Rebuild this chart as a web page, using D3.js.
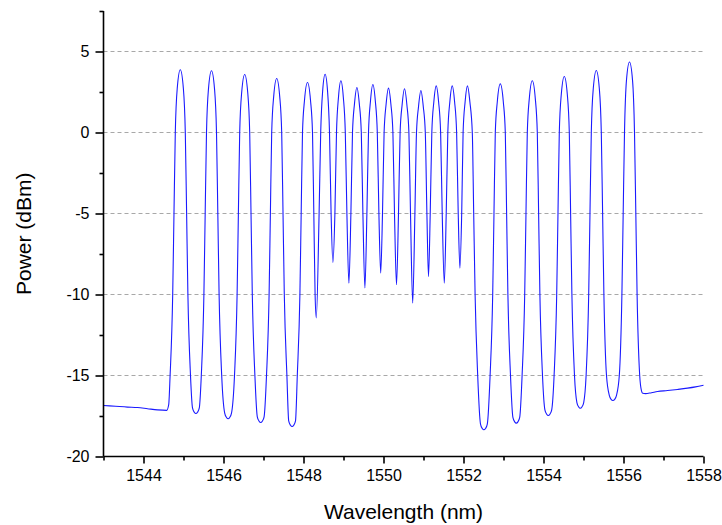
<!DOCTYPE html>
<html>
<head>
<meta charset="utf-8">
<script src="https://cdn.jsdelivr.net/npm/d3@7"></script>
<style>
  html, body { margin: 0; padding: 0; background: #fff; }
  svg { display: block; }
  text { font-family: "Liberation Sans", Arial, sans-serif; fill: #000; }
</style>
</head>
<body>
<svg id="chart" width="722" height="525"></svg>
<script>
// ---- Data ----
const xMajorTicks = [1544, 1546, 1548, 1550, 1552, 1554, 1556, 1558];
const xMinorTicks = [1543, 1545, 1547, 1549, 1551, 1553, 1555, 1557];
const yMajorTicks = [-20, -15, -10, -5, 0, 5];
const yMinorTicks = [-17.5, -12.5, -7.5, -2.5, 2.5, 7.5];
const gridValues = [-15, -10, -5, 0, 5];

// [wavelength nm, power dBm]
const baselineLeft = [
  [1543.00,-16.85],[1543.30,-16.90],[1543.60,-16.95],[1543.85,-16.98],[1544.10,-17.05],
  [1544.35,-17.12],[1544.58,-17.15],[1544.63,-16.80]
];
const peaksLeft = [
  [1544.665,-15],[1544.73,-10],[1544.762,-5],[1544.795,0],[1544.845,2.77],[1544.92,3.87],
  [1544.995,2.77],[1545.045,0],[1545.078,-5],[1545.11,-10],[1545.175,-15],
  [1545.225,-17.0],[1545.27,-17.27],[1545.31,-17.35],[1545.35,-17.27],[1545.395,-17.0],
  [1545.445,-15],[1545.51,-10],[1545.542,-5],[1545.575,0],[1545.625,2.71],[1545.70,3.81],
  [1545.775,2.71],[1545.825,0],[1545.858,-5],[1545.89,-10],[1545.955,-15],
  [1546.03,-17.32],[1546.075,-17.59],[1546.115,-17.67],[1546.155,-17.59],[1546.20,-17.32],
  [1546.275,-15],[1546.34,-10],[1546.372,-5],[1546.405,0],[1546.455,2.48],[1546.53,3.58],
  [1546.605,2.48],[1546.655,0],[1546.688,-5],[1546.72,-10],[1546.785,-15],
  [1546.845,-17.55],[1546.89,-17.82],[1546.93,-17.9],[1546.97,-17.82],[1547.015,-17.55],
  [1547.075,-15],[1547.14,-10],[1547.172,-5],[1547.205,0],[1547.255,2.23],[1547.33,3.33],
  [1547.405,2.23],[1547.455,0],[1547.488,-5],[1547.52,-10],[1547.585,-15],
  [1547.63,-17.8],[1547.675,-18.07],[1547.715,-18.15],[1547.755,-18.07],[1547.80,-17.8],
  [1547.845,-15],[1547.91,-10],[1547.942,-5],[1547.975,0],[1548.025,1.99],[1548.10,3.09],
  [1548.175,1.99],[1548.225,0],[1548.258,-5],[1548.29,-10]
];
const peaksMiddle = [
  [1548.32,-11.44],
  [1548.39,-5],[1548.43,0],[1548.48,2.6],[1548.54,3.6],[1548.60,2.6],[1548.65,0],[1548.69,-5],
  [1548.735,-8.02],
  [1548.785,-5],[1548.825,0],[1548.875,2.19],[1548.935,3.19],[1548.995,2.19],[1549.045,0],[1549.085,-5],
  [1549.135,-9.3],
  [1549.185,-5],[1549.225,0],[1549.275,1.78],[1549.335,2.78],[1549.395,1.78],[1549.445,0],[1549.485,-5],
  [1549.535,-9.6],
  [1549.585,-5],[1549.625,0],[1549.675,1.96],[1549.735,2.96],[1549.795,1.96],[1549.845,0],[1549.885,-5],
  [1549.93,-8.68],
  [1549.975,-5],[1550.015,0],[1550.065,1.74],[1550.125,2.74],[1550.185,1.74],[1550.235,0],[1550.275,-5],
  [1550.325,-9.4],
  [1550.375,-5],[1550.415,0],[1550.465,1.70],[1550.525,2.70],[1550.585,1.70],[1550.635,0],[1550.675,-5],
  [1550.73,-10.53],
  [1550.785,-5],[1550.825,0],[1550.875,1.59],[1550.935,2.59],[1550.995,1.59],[1551.045,0],[1551.085,-5],
  [1551.125,-8.89],
  [1551.168,-5],[1551.208,0],[1551.258,1.88],[1551.318,2.88],[1551.378,1.88],[1551.428,0],[1551.468,-5],
  [1551.52,-9.3],
  [1551.568,-5],[1551.608,0],[1551.658,1.88],[1551.718,2.88],[1551.778,1.88],[1551.828,0],[1551.868,-5],
  [1551.91,-8.37],
  [1551.955,-5],[1551.99,0],[1552.04,1.88],[1552.10,2.88],[1552.16,1.88],[1552.22,0],[1552.255,-5],
  [1552.29,-10],[1552.355,-15]
];
const peaksRight = [
  [1552.425,-18.0],[1552.47,-18.27],[1552.51,-18.35],[1552.55,-18.27],[1552.595,-18.0],
  [1552.665,-15],[1552.73,-10],[1552.762,-5],[1552.795,0],[1552.845,1.9],[1552.92,3.0],
  [1552.995,1.9],[1553.045,0],[1553.078,-5],[1553.11,-10],[1553.175,-15],
  [1553.235,-17.59],[1553.28,-17.86],[1553.32,-17.94],[1553.36,-17.86],[1553.405,-17.59],
  [1553.465,-15],[1553.53,-10],[1553.562,-5],[1553.595,0],[1553.645,2.09],[1553.72,3.19],
  [1553.795,2.09],[1553.845,0],[1553.878,-5],[1553.91,-10],[1553.975,-15],
  [1554.035,-17.12],[1554.08,-17.39],[1554.12,-17.47],[1554.16,-17.39],[1554.205,-17.12],
  [1554.265,-15],[1554.33,-10],[1554.362,-5],[1554.395,0],[1554.445,2.36],[1554.52,3.46],
  [1554.595,2.36],[1554.645,0],[1554.678,-5],[1554.71,-10],[1554.775,-15],
  [1554.835,-16.67],[1554.88,-16.94],[1554.92,-17.02],[1554.96,-16.94],[1555.005,-16.67],
  [1555.065,-15],[1555.13,-10],[1555.162,-5],[1555.195,0],[1555.245,2.73],[1555.32,3.83],
  [1555.395,2.73],[1555.445,0],[1555.478,-5],[1555.51,-10],[1555.575,-15],
  [1555.645,-16.22],[1555.69,-16.47],[1555.735,-16.54],[1555.78,-16.47],[1555.825,-16.22],
  [1555.895,-15],[1555.96,-10],[1555.992,-5],[1556.025,0],[1556.075,3.25],[1556.15,4.35],
  [1556.225,3.25],[1556.275,0],[1556.308,-5],[1556.34,-10],[1556.405,-15]
];
const baselineRight = [
  [1556.45,-15.95],[1556.48,-16.1],[1556.55,-16.12],[1556.70,-16.06],[1556.85,-15.99],[1557.10,-15.93],
  [1557.35,-15.86],[1557.60,-15.78],[1557.80,-15.70],[1558.00,-15.60]
];
const spectrum = [].concat(baselineLeft, peaksLeft, peaksMiddle, peaksRight, baselineRight);

// ---- Layout ----
const svg = d3.select("#chart");
const plot = { left: 103.5, right: 703.5, top: 11, bottom: 456.5 };

const x = d3.scaleLinear().domain([1543, 1558]).range([plot.left, plot.right]);
const y = d3.scaleLinear().domain([-20, 7.5]).range([plot.bottom, plot.top]);

// grid lines
svg.append("g").selectAll("line").data(gridValues).join("line")
  .attr("x1", plot.left).attr("x2", plot.right)
  .attr("y1", d => y(d)).attr("y2", d => y(d))
  .attr("stroke", "#a8a8a8").attr("stroke-width", 1)
  .attr("stroke-dasharray", "4,3");

// spectrum line
svg.append("path")
  .datum(spectrum)
  .attr("fill", "none")
  .attr("stroke", "#1a1aff")
  .attr("stroke-width", 1.1)
  .attr("d", d3.line().x(d => x(d[0])).y(d => y(d[1])).curve(d3.curveMonotoneX));

// axes
const fmt = d => String(d);
const xAxis = svg.append("g").attr("transform", `translate(0,${plot.bottom})`)
  .call(d3.axisBottom(x).tickValues(xMajorTicks).tickFormat(fmt).tickSize(7).tickSizeOuter(0).tickPadding(6));
const xMinor = svg.append("g").attr("transform", `translate(0,${plot.bottom})`)
  .call(d3.axisBottom(x).tickValues(xMinorTicks).tickFormat("").tickSize(4).tickSizeOuter(0));
const yAxis = svg.append("g").attr("transform", `translate(${plot.left},0)`)
  .call(d3.axisLeft(y).tickValues(yMajorTicks).tickFormat(fmt).tickSize(8).tickSizeOuter(0).tickPadding(6));
const yMinor = svg.append("g").attr("transform", `translate(${plot.left},0)`)
  .call(d3.axisLeft(y).tickValues(yMinorTicks).tickFormat("").tickSize(4).tickSizeOuter(0));

xMinor.select(".domain").remove();
yMinor.select(".domain").remove();
[xAxis, xMinor, yAxis, yMinor].forEach(g => {
  g.selectAll("path, line").attr("stroke", "#000").attr("stroke-width", 1.6);
  g.selectAll("text").attr("font-size", 16).attr("font-family", "'Liberation Sans', Arial, sans-serif").attr("fill", "#000");
});
xAxis.selectAll(".domain").attr("d", `M${plot.left},0H${plot.right}`);
yAxis.selectAll(".domain").attr("d", `M0,${plot.top}V${plot.bottom}`);

// axis titles
svg.append("text")
  .attr("x", (plot.left + plot.right) / 2).attr("y", 519)
  .attr("text-anchor", "middle").attr("font-size", 21)
  .text("Wavelength (nm)");
svg.append("text")
  .attr("transform", `translate(31,${(plot.top + plot.bottom) / 2}) rotate(-90)`)
  .attr("text-anchor", "middle").attr("font-size", 21)
  .text("Power (dBm)");
</script>
</body>
</html>
